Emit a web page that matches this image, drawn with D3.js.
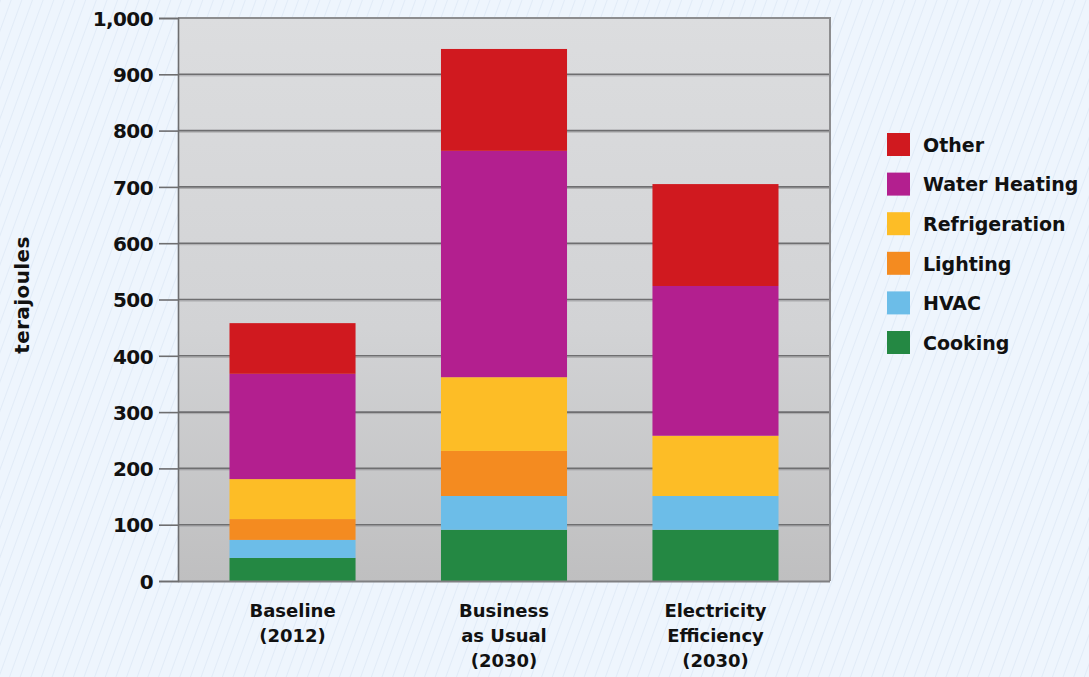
<!DOCTYPE html>
<html>
<head>
<meta charset="utf-8">
<script src="https://cdn.jsdelivr.net/npm/d3@7/dist/d3.min.js"></script>
<style>
  html, body { margin: 0; padding: 0; background: #eef5fd; }
  svg { display: block; }
  text { font-family: "DejaVu Sans", "Liberation Sans", sans-serif; font-weight: bold; fill: #111; }
</style>
</head>
<body>
<svg id="chart" width="1089" height="677"></svg>
<script>
// Scenarios along the x axis (each label split over lines)
const scenarios = ["Baseline (2012)", "Business as Usual (2030)", "Electricity Efficiency (2030)"];
const scenarioLines = [["Baseline", "(2012)"], ["Business", "as Usual", "(2030)"], ["Electricity", "Efficiency", "(2030)"]];

// End uses, stacked bottom to top
const endUses = ["Cooking", "HVAC", "Lighting", "Refrigeration", "Water Heating", "Other"];
const endUseColors = ["#248843", "#6cbde8", "#f48b20", "#fdbd26", "#b31f8f", "#d0191f"];

// Energy use per end use, terajoules, one value per scenario
const cooking       = [41, 91, 91];
const hvac          = [32, 60, 60];
const lighting      = [37, 80, 0];
const refrigeration = [71, 131, 107];
const waterHeating  = [187, 402, 266];
const other         = [90, 181, 181];

const yTicks = [0, 100, 200, 300, 400, 500, 600, 700, 800, 900, 1000];

const seriesValues = [cooking, hvac, lighting, refrigeration, waterHeating, other];
const rows = scenarios.map((s, i) => {
  const r = { scenario: s };
  endUses.forEach((u, k) => { r[u] = seriesValues[k][i]; });
  return r;
});

const FONT = "DejaVu Sans, Liberation Sans, sans-serif";
const svg = d3.select("#chart");
const W = 1089, H = 677;
const plot = { left: 178, right: 830, top: 18, bottom: 581 };

// Diagonal-striped page background
const defs = svg.append("defs");
const pat = defs.append("pattern")
  .attr("id", "stripes").attr("patternUnits", "userSpaceOnUse")
  .attr("width", 10).attr("height", 10)
  .attr("patternTransform", "rotate(20)");
pat.append("rect").attr("width", 10).attr("height", 10).attr("fill", "#eef5fd");
pat.append("line").attr("x1", 0).attr("y1", 0).attr("x2", 0).attr("y2", 10)
  .attr("stroke", "#d9e5f3").attr("stroke-width", 1.2);
svg.append("rect").attr("width", W).attr("height", H).attr("fill", "url(#stripes)");

// Plot panel gradient
const grad = defs.append("linearGradient").attr("id", "panel")
  .attr("x1", 0).attr("y1", 0).attr("x2", 0).attr("y2", 1);
grad.append("stop").attr("offset", "0%").attr("stop-color", "#dcdddf");
grad.append("stop").attr("offset", "55%").attr("stop-color", "#d2d3d5");
grad.append("stop").attr("offset", "100%").attr("stop-color", "#bfbfc0");

const x = d3.scaleBand().domain(scenarios)
  .range([plot.left, plot.right]).paddingInner(0.404).paddingOuter(0.2435);
const y = d3.scaleLinear().domain([0, 1000]).range([plot.bottom, plot.top]);

svg.append("rect")
  .attr("x", plot.left).attr("y", plot.top)
  .attr("width", plot.right - plot.left).attr("height", plot.bottom - plot.top)
  .attr("fill", "url(#panel)");

// Gridlines with a soft highlight underneath
const gridVals = yTicks.filter(v => v > 0 && v < 1000);
svg.append("g").selectAll("line.hl").data(gridVals).join("line")
  .attr("x1", plot.left).attr("x2", plot.right)
  .attr("y1", d => y(d) + 1.5).attr("y2", d => y(d) + 1.5)
  .attr("stroke", "#a9a9ab").attr("stroke-width", 1);
svg.append("g").selectAll("line.gl").data(gridVals).join("line")
  .attr("x1", plot.left).attr("x2", plot.right)
  .attr("y1", d => y(d)).attr("y2", d => y(d))
  .attr("stroke", "#6e6e70").attr("stroke-width", 1.6);

// Stacked bars
const stack = d3.stack().keys(endUses)(rows);
const color = d3.scaleOrdinal().domain(endUses).range(endUseColors);
svg.append("g").selectAll("g").data(stack).join("g")
  .attr("fill", d => color(d.key))
  .selectAll("rect").data(d => d).join("rect")
  .attr("x", d => x(d.data.scenario))
  .attr("width", x.bandwidth())
  .attr("y", d => y(d[1]))
  .attr("height", d => y(d[0]) - y(d[1]));

// Panel border
svg.append("path")
  .attr("d", `M${plot.left},${plot.top}H${plot.right}V${plot.bottom}`)
  .attr("fill", "none").attr("stroke", "#8d8d8f").attr("stroke-width", 2);
svg.append("line")
  .attr("x1", plot.left).attr("x2", plot.right)
  .attr("y1", plot.bottom + 0.5).attr("y2", plot.bottom + 0.5)
  .attr("stroke", "#808082").attr("stroke-width", 2);

// Y axis
const yAxis = d3.axisLeft(y).tickValues(yTicks).tickSize(19).tickPadding(6)
  .tickFormat(d3.format(","));
const ya = svg.append("g").attr("transform", `translate(${plot.left},0)`).call(yAxis);
ya.select(".domain").attr("stroke", "#6e6e70").attr("stroke-width", 1.6);
ya.selectAll(".tick line").attr("stroke", "#6e6e70").attr("stroke-width", 1.6);
ya.selectAll(".tick text").attr("font-size", 20).attr("fill", "#111")
  .attr("font-family", FONT).attr("font-weight", "bold")
  .attr("letter-spacing", -0.6)
  .attr("dy", "0.36em");

svg.append("text")
  .attr("transform", "translate(29,295) rotate(-90)")
  .attr("text-anchor", "middle").attr("font-size", 20)
  .attr("letter-spacing", 0.4)
  .text("terajoules");

// X labels
const xl = svg.append("g").selectAll("text").data(scenarios).join("text")
  .attr("text-anchor", "middle").attr("font-size", 18)
  .attr("x", d => x(d) + x.bandwidth() / 2)
  .attr("y", 617);
xl.selectAll("tspan").data((d, i) => scenarioLines[i]).join("tspan")
  .attr("x", function () { return d3.select(this.parentNode).attr("x"); })
  .attr("dy", (d, i) => i === 0 ? 0 : 25)
  .text(d => d);

// Legend, top entry is the top of the stack
const legendItems = endUses.slice().reverse();
const lg = svg.append("g").selectAll("g").data(legendItems).join("g")
  .attr("transform", (d, i) => `translate(887,${133 + i * 39.6})`);
lg.append("rect").attr("width", 23).attr("height", 23).attr("fill", d => color(d));
lg.append("text").attr("x", 36).attr("y", 12).attr("dy", "0.36em")
  .attr("font-size", 19).text(d => d);
</script>
</body>
</html>
